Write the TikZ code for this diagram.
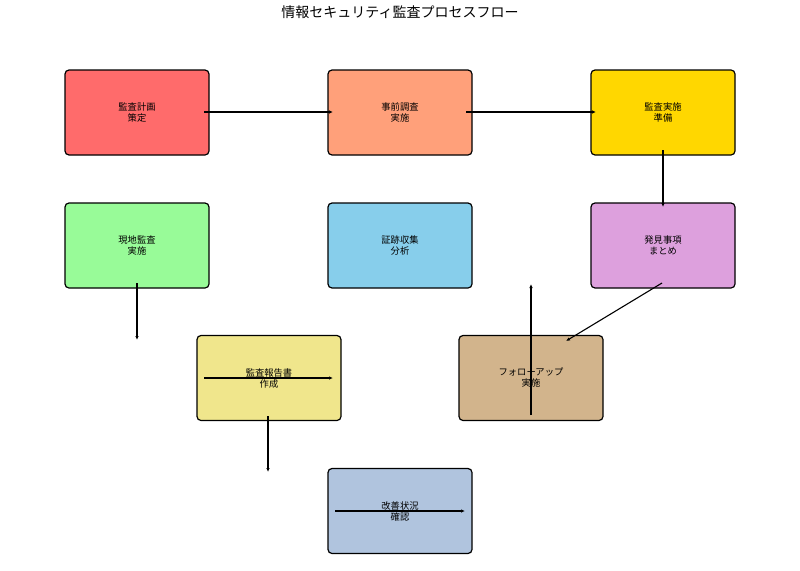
\documentclass[tikz,border=0pt]{standalone}
\usepackage{fontspec}
\newfontfamily\jp{Noto Sans CJK JP}
\usetikzlibrary{arrows.meta}
\definecolor{cA}{HTML}{FF6B6B}
\definecolor{cB}{HTML}{FFA07A}
\definecolor{cC}{HTML}{FFD700}
\definecolor{cD}{HTML}{98FB98}
\definecolor{cE}{HTML}{87CEEB}
\definecolor{cF}{HTML}{DDA0DD}
\definecolor{cG}{HTML}{F0E68C}
\definecolor{cH}{HTML}{D2B48C}
\definecolor{cI}{HTML}{B0C4DE}
\tikzset{
  procbox/.style={draw=black, line width=1.2pt, rounded corners=4pt, minimum width=144pt, minimum height=85pt, inner sep=0pt, align=center, font=\jp\fontsize{9.3}{11}\selectfont},
  flow/.style={line width=1.1pt, -{Latex[length=4pt,width=3.5pt]}}
}
\begin{document}
\begin{tikzpicture}[x=1pt,y=-1pt]
\useasboundingbox (0,0) rectangle (800,570);
\node[font=\jp\fontsize{14}{16}\selectfont] (title) at (400,12) {情報セキュリティ監査プロセスフロー};
\node[procbox, fill=cA] (n1) at (137,112.5) {監査計画\\策定};
\node[procbox, fill=cB] (n2) at (400,112.5) {事前調査\\実施};
\node[procbox, fill=cC] (n3) at (663,112.5) {監査実施\\準備};
\node[procbox, fill=cD] (n4) at (137,245.5) {現地監査\\実施};
\node[procbox, fill=cE] (n5) at (400,245.5) {証跡収集\\分析};
\node[procbox, fill=cF] (n6) at (663,245.5) {発見事項\\まとめ};
\node[procbox, fill=cG] (n7) at (269,378) {監査報告書\\作成};
\node[procbox, fill=cH] (n8) at (531,378) {フォローアップ\\実施};
\node[procbox, fill=cI] (n9) at (400,511) {改善状況\\確認};
% connector end points
\coordinate (a1s) at (204,112); \coordinate (a1e) at (333,112);
\coordinate (a2s) at (466,112); \coordinate (a2e) at (596,112);
\coordinate (a3s) at (663,150); \coordinate (a3e) at (663,207);
\coordinate (a4s) at (662,283); \coordinate (a4e) at (566,341);
\coordinate (a5s) at (531,415); \coordinate (a5e) at (531,284);
\coordinate (a6s) at (137,283); \coordinate (a6e) at (137,340);
\coordinate (a7s) at (204,378); \coordinate (a7e) at (333,378);
\coordinate (a8s) at (268,416); \coordinate (a8e) at (268,472);
\coordinate (a9s) at (335,511); \coordinate (a9e) at (465,511);
\draw[flow] (a1s) -- (a1e);
\draw[flow] (a2s) -- (a2e);
\draw[flow] (a3s) -- (a3e);
\draw[flow] (a4s) -- (a4e);
\draw[flow] (a5s) -- (a5e);
\draw[flow] (a6s) -- (a6e);
\draw[flow] (a7s) -- (a7e);
\draw[flow] (a8s) -- (a8e);
\draw[flow] (a9s) -- (a9e);
\end{tikzpicture}
\end{document}
